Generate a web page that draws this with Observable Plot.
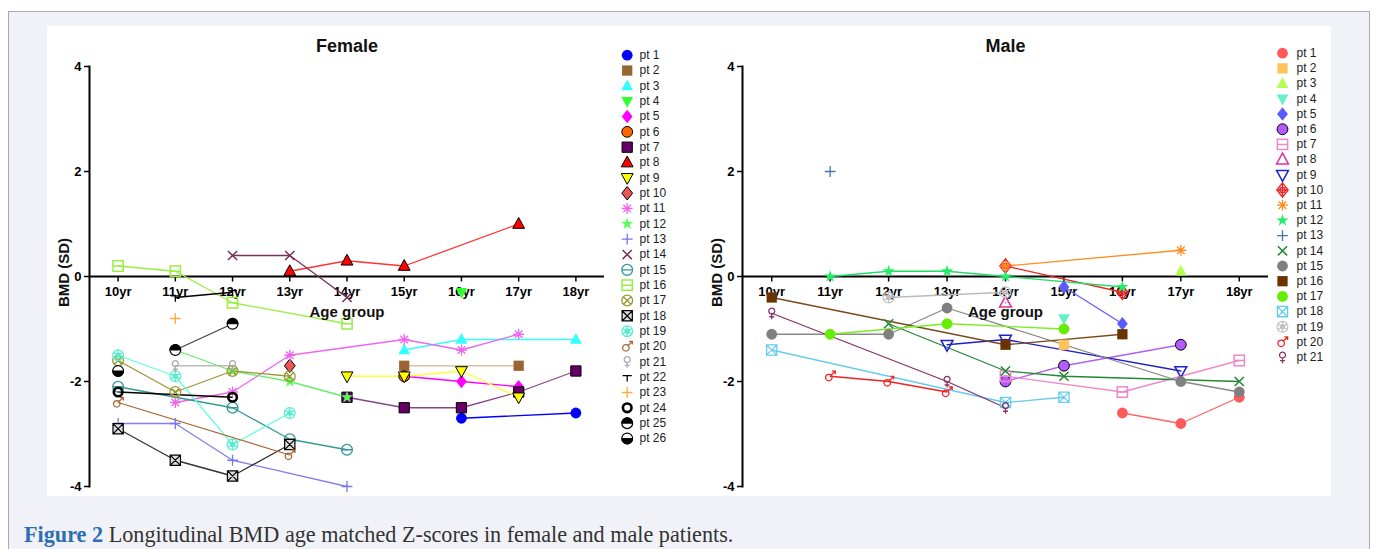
<!DOCTYPE html>
<html>
<head>
<meta charset="utf-8">
<script src="https://cdn.jsdelivr.net/npm/d3@7"></script>
<script src="https://cdn.jsdelivr.net/npm/@observablehq/plot@0.6"></script>
<style>
html,body{margin:0;padding:0;background:#fff;width:1375px;height:549px;overflow:hidden;position:relative;}
#frame{position:absolute;left:8px;top:11px;width:1362px;height:560px;border:1px solid #a8a8b2;background:#f0f2f7;box-sizing:border-box;}
#panel{position:absolute;left:47px;top:26px;width:1284px;height:470px;background:#fff;}
.abs{position:absolute;}
.abs svg{display:block;overflow:visible;}
#caption{position:absolute;left:24px;top:523px;line-height:24px;font-family:'Liberation Serif','Times New Roman',serif;font-size:22.2px;color:#333;white-space:nowrap;}
#caption b{color:#2e6db4;}
</style>
</head>
<body>
<div id="frame"></div>
<div id="panel"></div>
<div id="femalePlot" class="abs" style="left:47px;top:26px"></div>
<div id="femaleLegend" class="abs" style="left:607px;top:26px"></div>
<div id="malePlot" class="abs" style="left:700px;top:26px"></div>
<div id="maleLegend" class="abs" style="left:1265px;top:26px"></div>
<div id="caption"><b>Figure 2</b> Longitudinal BMD age matched Z-scores in female and male patients.</div>
<script>
// ---------- categories & ticks ----------
const ages = ["10yr","11yr","12yr","13yr","14yr","15yr","16yr","17yr","18yr"];
const yTicks = [-4, -2, 0, 2, 4];
const _ = null;

// ---------- Female series (10yr ... 18yr) ----------
const femaleNames = Array.from({length: 26}, (d, i) => "pt " + (i + 1));
const F01 = [_, _, _, _, _, _, -2.7, _, -2.6];
const F02 = [_, _, _, _, _, -1.7, _, -1.7, _];
const F03 = [_, _, _, _, _, -1.4, -1.2, _, -1.2];
const F04 = [_, _, _, _, _, _, -0.3, _, _];
const F05 = [_, _, _, _, _, -1.9, -2.0, -2.1, _];
const F06 = [_, _, _, _, _, -1.9, _, _, _];
const F07 = [_, _, _, _, -2.3, -2.5, -2.5, -2.2, -1.8];
const F08 = [_, _, _, 0.1, 0.3, 0.2, _, 1.0, _];
const F09 = [_, _, _, _, -1.9, -1.9, -1.8, -2.3, _];
const F10 = [_, _, _, -1.7, _, _, _, _, _];
const F11 = [_, -2.4, -2.2, -1.5, _, -1.2, -1.4, -1.1, _];
const F12 = [_, -1.4, -1.8, -2.0, -2.3, _, _, _, _];
const F13 = [-2.8, -2.8, -3.5, _, -4.0, _, _, _, _];
const F14 = [_, _, 0.4, 0.4, -0.4, _, _, _, _];
const F15 = [-2.1, _, -2.5, -3.1, -3.3, _, _, _, _];
const F16 = [0.2, 0.1, -0.5, _, -0.9, _, _, _, _];
const F17 = [-1.6, -2.2, -1.8, -1.9, _, _, _, _, _];
const F18 = [-2.9, -3.5, -3.8, -3.2, _, _, _, _, _];
const F19 = [-1.5, -1.9, -3.2, -2.6, _, _, _, _, _];
const F20 = [-2.4, _, _, -3.4, _, _, _, _, _];
const F21 = [_, -1.7, -1.7, _, _, _, _, _, _];
const F22 = [_, -0.4, -0.3, _, _, _, _, _, _];
const F23 = [_, -0.8, _, _, _, _, _, _, _];
const F24 = [-2.2, _, -2.3, _, _, _, _, _, _];
const F25 = [_, -1.4, -0.9, _, _, _, _, _, _];
const F26 = [-1.8, _, _, _, _, _, _, _, _];
const femaleSeries = [F01,F02,F03,F04,F05,F06,F07,F08,F09,F10,F11,F12,F13,F14,F15,F16,F17,F18,F19,F20,F21,F22,F23,F24,F25,F26];

// ---------- Male series ----------
const maleNames = Array.from({length: 21}, (d, i) => "pt " + (i + 1));
const M01 = [_, _, _, _, _, _, -2.6, -2.8, -2.3];
const M02 = [_, _, _, _, _, -1.3, _, _, _];
const M03 = [_, _, _, _, _, _, _, 0.1, _];
const M04 = [_, _, _, _, _, -0.8, _, _, _];
const M05 = [_, _, _, _, _, -0.2, -0.9, _, _];
const M06 = [_, _, _, _, -2.0, -1.7, _, -1.3, _];
const M07 = [_, _, _, _, -1.9, _, -2.2, _, -1.6];
const M08 = [_, _, _, _, -0.5, _, _, _, _];
const M09 = [_, _, _, -1.3, -1.2, _, _, -1.8, _];
const M10 = [_, _, _, _, 0.2, _, -0.3, _, _];
const M11 = [_, _, _, _, 0.2, _, _, 0.5, _];
const M12 = [_, 0.0, 0.1, 0.1, 0.0, _, -0.2, _, _];
const M13 = [_, 2.0, _, _, _, _, _, _, _];
const M14 = [_, _, -0.9, _, -1.8, -1.9, _, _, -2.0];
const M15 = [-1.1, _, -1.1, -0.6, _, _, _, -2.0, -2.2];
const M16 = [-0.4, _, _, _, -1.3, _, -1.1, _, _];
const M17 = [_, -1.1, _, -0.9, _, -1.0, _, _, _];
const M18 = [-1.4, _, _, _, -2.4, -2.3, _, _, _];
const M19 = [_, _, -0.4, _, -0.3, _, _, _, _];
const M20 = [_, -1.9, -2.0, -2.2, _, _, _, _, _];
const M21 = [-0.7, _, _, -2.0, -2.5, _, _, _, _];
const maleSeries = [M01,M02,M03,M04,M05,M06,M07,M08,M09,M10,M11,M12,M13,M14,M15,M16,M17,M18,M19,M20,M21];

// ---------- marker symbols ----------
const TAU = 2 * Math.PI;
function mk(fn) { return {draw(c, size) { fn(c, Math.sqrt(size / Math.PI)); }}; }
function circ(c, x, y, r) { c.moveTo(x + r, y); c.arc(x, y, r, 0, TAU); }
function sq(c, s) { c.rect(-s, -s, 2 * s, 2 * s); }
function diam(c, r) { c.moveTo(0, -1.25 * r); c.lineTo(r, 0); c.lineTo(0, 1.25 * r); c.lineTo(-r, 0); c.closePath(); }
const SYM = {
  circle: mk((c, r) => circ(c, 0, 0, r)),
  square: mk((c, r) => sq(c, r * 0.95)),
  triangle: mk((c, r) => { c.moveTo(0, -1.2 * r); c.lineTo(1.1 * r, 0.8 * r); c.lineTo(-1.1 * r, 0.8 * r); c.closePath(); }),
  triangleDown: mk((c, r) => { c.moveTo(0, 1.2 * r); c.lineTo(1.1 * r, -0.8 * r); c.lineTo(-1.1 * r, -0.8 * r); c.closePath(); }),
  diamond: mk((c, r) => diam(c, r)),
  star: mk((c, r) => { for (let i = 0; i < 10; i++) { const a = -Math.PI / 2 + i * Math.PI / 5, rr = i % 2 ? 0.45 * r : 1.2 * r; const x = rr * Math.cos(a), y = rr * Math.sin(a); if (i) c.lineTo(x, y); else c.moveTo(x, y); } c.closePath(); }),
  asterisk: mk((c, r) => { for (let i = 0; i < 4; i++) { const a = i * Math.PI / 4, x = r * Math.cos(a), y = r * Math.sin(a); c.moveTo(x, y); c.lineTo(-x, -y); } }),
  plus: mk((c, r) => { c.moveTo(-r, 0); c.lineTo(r, 0); c.moveTo(0, -r); c.lineTo(0, r); }),
  times: mk((c, r) => { const s = r * 0.85; c.moveTo(-s, -s); c.lineTo(s, s); c.moveTo(-s, s); c.lineTo(s, -s); }),
  circleH: mk((c, r) => { circ(c, 0, 0, r); c.moveTo(-r, 0); c.lineTo(r, 0); }),
  squareH: mk((c, r) => { const s = r * 0.95; sq(c, s); c.moveTo(-s, 0); c.lineTo(s, 0); }),
  circleX: mk((c, r) => { circ(c, 0, 0, r); const s = r * 0.7; c.moveTo(-s, -s); c.lineTo(s, s); c.moveTo(-s, s); c.lineTo(s, -s); }),
  squareX: mk((c, r) => { const s = r * 0.95; sq(c, s); c.moveTo(-s, -s); c.lineTo(s, s); c.moveTo(-s, s); c.lineTo(s, -s); }),
  hexFlower: mk((c, r) => { circ(c, 0, 0, r); circ(c, 0, 0, r * 0.4); for (let i = 0; i < 3; i++) { const a = Math.PI / 6 + i * Math.PI / 3, x = r * Math.cos(a), y = r * Math.sin(a); c.moveTo(x, y); c.lineTo(-x, -y); } }),
  mars: mk((c, r) => { circ(c, -0.25 * r, 0.25 * r, 0.6 * r); c.moveTo(0.18 * r, -0.18 * r); c.lineTo(0.95 * r, -0.95 * r); c.moveTo(0.35 * r, -0.95 * r); c.lineTo(0.95 * r, -0.95 * r); c.lineTo(0.95 * r, -0.35 * r); }),
  venus: mk((c, r) => { circ(c, 0, -0.4 * r, 0.55 * r); c.moveTo(0, 0.15 * r); c.lineTo(0, 1.1 * r); c.moveTo(-0.45 * r, 0.65 * r); c.lineTo(0.45 * r, 0.65 * r); }),
  tee: mk((c, r) => { c.moveTo(-0.85 * r, -0.3 * r); c.lineTo(0.85 * r, -0.3 * r); c.moveTo(0, -0.3 * r); c.lineTo(0, 0.8 * r); }),
  halfTop: mk((c, r) => { c.moveTo(-r, 0); c.arc(0, 0, r, Math.PI, TAU); c.closePath(); }),
  halfBottom: mk((c, r) => { c.moveTo(r, 0); c.arc(0, 0, r, 0, Math.PI); c.closePath(); }),
  diamondCircle: mk((c, r) => { diam(c, r * 1.05); circ(c, 0, 0, r * 0.5); c.moveTo(-r, 0); c.lineTo(r, 0); c.moveTo(0, -1.2 * r); c.lineTo(0, 1.2 * r); }),
  tickDown: mk((c, r) => { c.moveTo(0, 0); c.lineTo(0, r); })
};

// ---------- styles: [symbol, fill, stroke, strokeWidth, radius factor] ----------
const femaleStyles = [
  {line: "#0000ff", layers: [["circle", "#0000ff", "none"]]},
  {line: "#d4c4aa", layers: [["square", "#996633", "none"]]},
  {line: "#33ffff", layers: [["triangle", "#33ffff", "none"]]},
  {line: "#33ff33", layers: [["triangleDown", "#33ff33", "none"]]},
  {line: "#ff00ff", layers: [["diamond", "#ff00ff", "none"]]},
  {line: "#ff6600", layers: [["circle", "#ff6600", "#000", 1]]},
  {line: "#884488", layers: [["square", "#660066", "#000", 1]]},
  {line: "#ff3333", layers: [["triangle", "#ff0000", "#000", 1]]},
  {line: "#ffff33", layers: [["triangleDown", "#ffff00", "#000", 1]]},
  {line: "#ee5555", layers: [["diamond", "#ee5555", "#000", 1]]},
  {line: "#ee66ee", layers: [["asterisk", "none", "#ee66ee", 1.3]]},
  {line: "#66ee66", layers: [["star", "#55ff55", "none"]]},
  {line: "#8080ee", layers: [["plus", "none", "#7777ee", 1.3]]},
  {line: "#773355", layers: [["times", "none", "#773355", 1.5]]},
  {line: "#339999", layers: [["circleH", "none", "#339999", 1.3]]},
  {line: "#99ee44", layers: [["squareH", "none", "#99ee44", 1.5]]},
  {line: "#999933", layers: [["circleX", "none", "#999933", 1.3]]},
  {line: "#333333", layers: [["squareX", "#dddddd", "#000", 1.2]]},
  {line: "#66ffdd", layers: [["hexFlower", "none", "#55eecc", 1.2]]},
  {line: "#aa6633", layers: [["mars", "none", "#aa6633", 1.3]]},
  {line: "#bbbbbb", layers: [["venus", "none", "#aaaaaa", 1.3]]},
  {line: "#000000", layers: [["tee", "none", "#000", 1.3]]},
  {line: "#ffaa44", layers: [["plus", "none", "#ffaa44", 1.3]]},
  {line: "#000000", layers: [["circle", "none", "#000", 2.6, 0.8]]},
  {line: "#444444", layers: [["circle", "#fff", "#000", 1.2], ["halfTop", "#000", "#000", 1]]},
  {line: "#000000", layers: [["circle", "#fff", "#000", 1.2], ["halfBottom", "#000", "#000", 1]]}
];
const maleStyles = [
  {line: "#ff6666", layers: [["circle", "#ff5a5a", "none"]]},
  {line: "#ffc35a", layers: [["square", "#ffc35a", "none"]]},
  {line: "#b4ff50", layers: [["triangle", "#b4ff50", "none"]]},
  {line: "#66f0c8", layers: [["triangleDown", "#66f0c8", "none"]]},
  {line: "#6060ff", layers: [["diamond", "#5a5aff", "none"]]},
  {line: "#b060ee", layers: [["circle", "#b45aff", "#000", 1]]},
  {line: "#ee88cc", layers: [["squareH", "none", "#ee88cc", 1.5]]},
  {line: "#dd3399", layers: [["triangle", "none", "#dd3399", 1.5]]},
  {line: "#2020cc", layers: [["triangleDown", "none", "#2020cc", 1.5]]},
  {line: "#ee2222", layers: [["diamondCircle", "none", "#ee2222", 1.3]]},
  {line: "#ff8c1a", layers: [["asterisk", "none", "#ff8c1a", 1.3]]},
  {line: "#22dd66", layers: [["star", "#22ee66", "none"]]},
  {line: "#4477aa", layers: [["plus", "none", "#4477aa", 1.3]]},
  {line: "#228833", layers: [["times", "none", "#228833", 1.5]]},
  {line: "#888888", layers: [["circle", "#808080", "none"]]},
  {line: "#7a4a1a", layers: [["square", "#6b3300", "none"]]},
  {line: "#77ee22", layers: [["circle", "#66ee00", "none"]]},
  {line: "#66ccee", layers: [["squareX", "none", "#66ccee", 1.3]]},
  {line: "#bbbbbb", layers: [["hexFlower", "none", "#c0c0c0", 1.2]]},
  {line: "#ee2222", layers: [["mars", "none", "#ee2222", 1.3]]},
  {line: "#883366", layers: [["venus", "none", "#883366", 1.3]]}
];

const R = 5.4;
const FONT = "'Liberation Sans', Arial, Helvetica, sans-serif";

function seriesPoints(name, arr) {
  return ages.map((a, i) => ({name, age: a, v: arr[i]})).filter(d => d.v !== null);
}
function markerMarks(data, style, pos) {
  return style.layers.map(([s, fill, stroke, sw = 1, k = 1]) =>
    Plot.dot(data, {...pos, r: R * k, symbol: SYM[s], fill, stroke, strokeWidth: sw}));
}

function panel(title, names, series, styles, width, marginRight) {
  const marks = [];
  marks.push(Plot.ruleY([0], {stroke: "#000", strokeWidth: 2}));
  marks.push(Plot.frame({anchor: "left", stroke: "#000", strokeWidth: 2}));
  marks.push(Plot.axisY({ticks: yTicks, tickSize: 5, tickPadding: 3, tickFormat: d => String(d), label: null,
    fontSize: 13, fontWeight: "bold", strokeWidth: 1.5, stroke: "#000", fill: "#000"}));
  marks.push(Plot.dot(ages, {x: d => d, y: () => 0, r: 5, symbol: SYM.tickDown, stroke: "#000", strokeWidth: 1.5}));
  marks.push(Plot.text(ages, {x: d => d, y: () => 0, text: d => d, dy: 15, fontSize: 13, fontWeight: "bold", fill: "#000"}));
  series.forEach((arr, i) => {
    marks.push(Plot.line(seriesPoints(names[i], arr), {x: "age", y: "v", stroke: styles[i].line, strokeWidth: 1.3}));
  });
  series.forEach((arr, i) => {
    marks.push(...markerMarks(seriesPoints(names[i], arr), styles[i], {x: "age", y: "v"}));
  });
  marks.push(Plot.text([title], {text: d => d, frameAnchor: "top", lineAnchor: "middle", dy: -20, fontSize: 18, fontWeight: "bold", fill: "#111"}));
  marks.push(Plot.text(["BMD (SD)"], {text: d => d, frameAnchor: "left", textAnchor: "middle", lineAnchor: "middle", rotate: -90, dx: -25, dy: -4, fontSize: 15, fontWeight: "bold", fill: "#111"}));
  marks.push(Plot.text(["Age group"], {text: d => d, frameAnchor: "top", lineAnchor: "middle", dy: 246, fontSize: 15, fontWeight: "bold", fill: "#111"}));
  return Plot.plot({
    width, height: 470,
    marginLeft: 42, marginRight, marginTop: 40, marginBottom: 10,
    x: {type: "point", domain: ages, padding: 0.5, round: false, axis: null},
    y: {domain: [-4, 4]},
    style: {fontFamily: FONT, fontSize: "13px", background: "transparent", color: "#000", overflow: "visible"},
    marks
  });
}

function legend(names, styles, width, height, range, dxMarker, dxText) {
  const marks = [];
  names.forEach((n, i) => {
    marks.push(...markerMarks([n], styles[i], {y: d => d, frameAnchor: "left", dx: dxMarker}));
  });
  marks.push(Plot.text(names, {y: d => d, text: d => d, frameAnchor: "left", lineAnchor: "middle", dx: dxText, textAnchor: "start", fontSize: 12, fill: "#222"}));
  return Plot.plot({
    width, height, margin: 0,
    y: {type: "point", domain: names, range, padding: 0, round: false, axis: null},
    style: {fontFamily: FONT, fontSize: "12px", background: "transparent", overflow: "visible"},
    marks
  });
}

document.getElementById("femalePlot").appendChild(panel("Female", femaleNames, femaleSeries, femaleStyles, 560, 3));
document.getElementById("malePlot").appendChild(panel("Male", maleNames, maleSeries, maleStyles, 570, 2));
document.getElementById("femaleLegend").appendChild(legend(femaleNames, femaleStyles, 90, 440, [28.7, 412], 19.7, 32));
document.getElementById("maleLegend").appendChild(legend(maleNames, maleStyles, 66, 350, [26.7, 330.7], 17, 31));
</script>
</body>
</html>
